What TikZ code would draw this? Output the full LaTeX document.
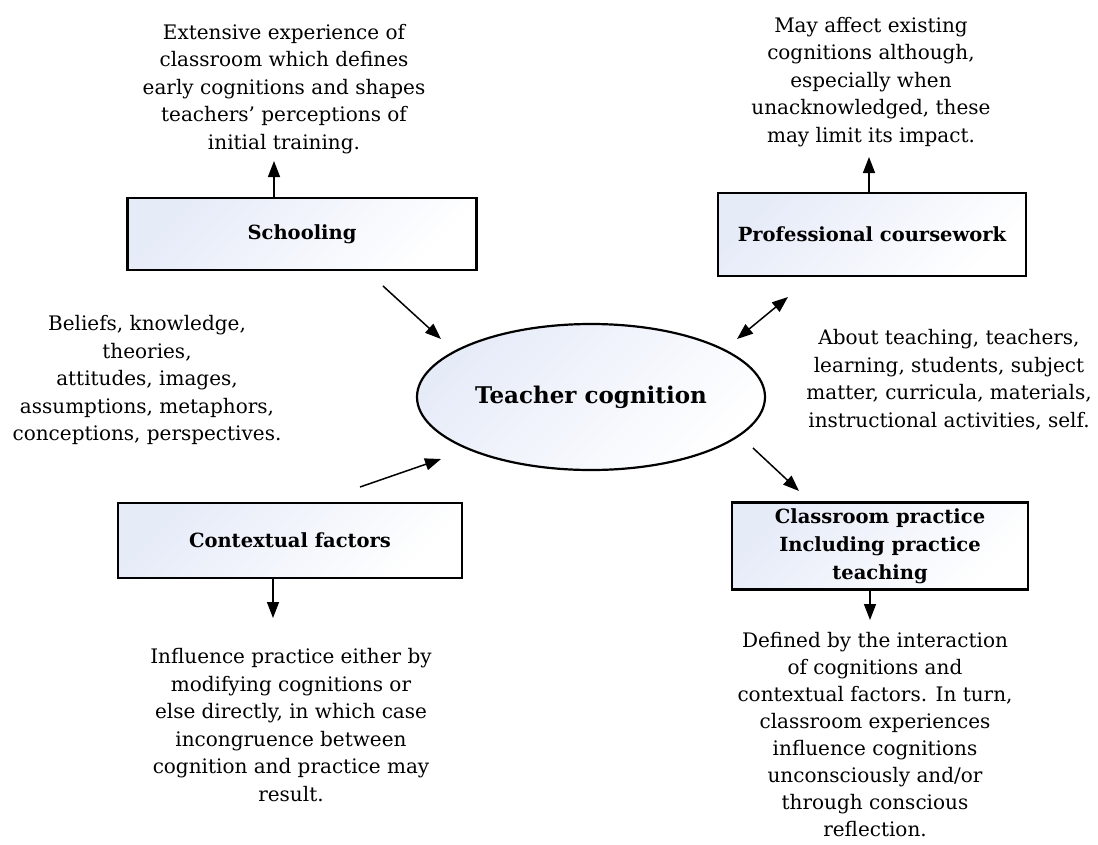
\documentclass[tikz,border=0pt]{standalone}
\usepackage{fontspec}
\setmainfont{DejaVu Serif}
\usetikzlibrary{shapes.geometric,arrows.meta}
\definecolor{boxfill}{RGB}{230,235,248}
\begin{document}
\begin{tikzpicture}[x=1pt,y=-1pt,
  txt/.style={align=center,font=\fontsize{20}{27.5}\selectfont,inner sep=0pt},
  boxnode/.style={draw,line width=2.6pt,top color=boxfill,bottom color=white,shading angle=45,inner sep=0pt,align=center,font=\fontsize{19.5}{28}\selectfont\bfseries},
  arr/.style={line width=1.5pt,-{Triangle[length=16pt,width=12pt]}},
  darr/.style={line width=1.5pt,{Triangle[length=16pt,width=12pt]}-{Triangle[length=16pt,width=12pt]}}]
\useasboundingbox (0,0) rectangle (1098,844);

% boxes
\node[boxnode,minimum width=349pt,minimum height=72pt] (school) at (302,234) {Schooling};
\node[boxnode,minimum width=308pt,minimum height=83pt] (prof) at (872,234.5) {Professional coursework};
\node[boxnode,minimum width=344pt,minimum height=75pt] (context) at (290,540.5) {Contextual factors};
\node[boxnode,minimum width=296pt,minimum height=87pt] (class) at (880,546) {Classroom practice\\Including practice\\teaching};
\node[ellipse,draw,line width=2.2pt,top color=boxfill,bottom color=white,shading angle=45,minimum width=348pt,minimum height=146pt,inner sep=0pt,font=\fontsize{23}{28}\selectfont\bfseries] (tc) at (591,397) {Teacher cognition};

% texts
\node[txt] (t1) at (284,89) {Extensive experience of\\classroom which defines\\early cognitions and shapes\\teachers’ perceptions of\\initial training.};
\node[txt] (t2) at (871,82) {May affect existing\\cognitions although,\\especially when\\unacknowledged, these\\may limit its impact.};
\node[txt] (t3) at (147,380) {Beliefs, knowledge,\\theories,\\attitudes, images,\\assumptions, metaphors,\\conceptions, perspectives.};
\node[txt] (t4) at (949,380) {About teaching, teachers,\\learning, students, subject\\matter, curricula, materials,\\instructional activities, self.};
\node[txt] (t5) at (291,725) {Influence practice either by\\modifying cognitions or\\else directly, in which case\\incongruence between\\cognition and practice may\\result.};
\node[txt,font=\fontsize{20}{27}\selectfont] (t6) at (875,735) {Defined by the interaction\\of cognitions and\\contextual factors. In turn,\\classroom experiences\\influence cognitions\\unconsciously and/or\\through conscious\\reflection.};

% connector end points
\coordinate (a1s) at (274,198);   \coordinate (a1e) at (274,161);
\coordinate (a2s) at (869,193);   \coordinate (a2e) at (869,157);
\coordinate (a3s) at (273,578);   \coordinate (a3e) at (273,618);
\coordinate (a4s) at (870,589);   \coordinate (a4e) at (870,620);
\coordinate (b1s) at (383,286);   \coordinate (b1e) at (441,339);
\coordinate (b2s) at (737,339);   \coordinate (b2e) at (788,297);
\coordinate (b3s) at (753,448);   \coordinate (b3e) at (799,491);
\coordinate (b4s) at (360,487);   \coordinate (b4e) at (441,459);

\draw[arr] (a1s) -- (a1e);
\draw[arr] (a2s) -- (a2e);
\draw[arr] (a3s) -- (a3e);
\draw[arr] (a4s) -- (a4e);
\draw[arr] (b1s) -- (b1e);
\draw[darr] (b2s) -- (b2e);
\draw[arr] (b3s) -- (b3e);
\draw[arr] (b4s) -- (b4e);
\end{tikzpicture}
\end{document}
